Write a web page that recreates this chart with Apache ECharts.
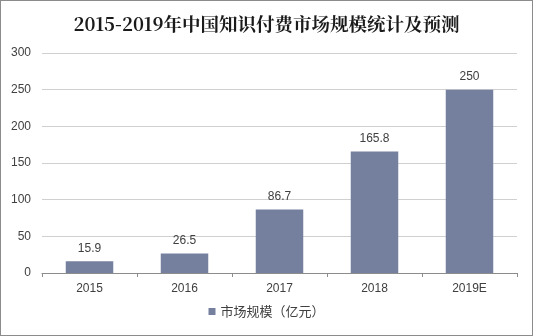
<!DOCTYPE html>
<html>
<head>
<meta charset="utf-8">
<script src="https://cdn.jsdelivr.net/npm/echarts@6/dist/echarts.min.js"></script>
<style>
  html, body { margin: 0; padding: 0; background: #fff; }
  #frame { position: absolute; left: 0; top: 0; width: 531px; height: 334px; border: 1px solid #8c8c8c; }
  #chart { width: 531px; height: 334px; }
</style>
</head>
<body>
<div id="frame"><div id="chart"></div></div>
<script>
// Market size of paid knowledge in China, 2015–2019 (2019 forecast), 100 million yuan
const years = ['2015', '2016', '2017', '2018', '2019E'];
const marketSize = [15.9, 26.5, 86.7, 165.8, 250];
const yTicks = { min: 0, max: 300, interval: 50 };
const seriesName = '市场规模（亿元）';
const titleText = '2015-2019年中国知识付费市场规模统计及预测';

const chart = echarts.init(document.getElementById('chart'), null, { renderer: 'canvas' });
chart.setOption({
  animation: false,
  title: {
    text: titleText,
    left: 'center',
    top: 9,
    textStyle: {
      fontFamily: '"Noto Serif CJK SC", "Noto Sans CJK SC", serif',
      fontSize: 18.5,
      fontWeight: 'bold',
      color: '#1a1a1a'
    }
  },
  grid: { left: 41, right: 15, top: 52, bottom: 62, containLabel: false },
  legend: {
    bottom: 12,
    left: 'center',
    itemWidth: 7,
    itemHeight: 7,
    icon: 'rect',
    data: [seriesName],
    textStyle: { fontFamily: '"Noto Sans CJK SC", sans-serif', fontSize: 13, color: '#404040' }
  },
  xAxis: {
    type: 'category',
    data: years,
    axisLine: { lineStyle: { color: '#8c8c8c' } },
    axisTick: { show: true, alignWithLabel: false, length: 4, lineStyle: { color: '#8c8c8c' } },
    axisLabel: { color: '#404040', fontFamily: 'Arial, "Liberation Sans", sans-serif', fontSize: 12, margin: 10 }
  },
  yAxis: {
    type: 'value',
    min: yTicks.min,
    max: yTicks.max,
    interval: yTicks.interval,
    axisLine: { show: false },
    axisTick: { show: false },
    splitLine: { lineStyle: { color: '#d0d0d0' } },
    axisLabel: { color: '#404040', fontFamily: 'Arial, "Liberation Sans", sans-serif', fontSize: 12, margin: 11 }
  },
  series: [{
    name: seriesName,
    type: 'bar',
    data: marketSize,
    barWidth: '50%',
    itemStyle: { color: '#75809f' },
    label: {
      show: true,
      position: 'top',
      distance: 7,
      color: '#404040',
      fontFamily: 'Arial, "Liberation Sans", sans-serif',
      fontSize: 12
    }
  }]
});
</script>
</body>
</html>
